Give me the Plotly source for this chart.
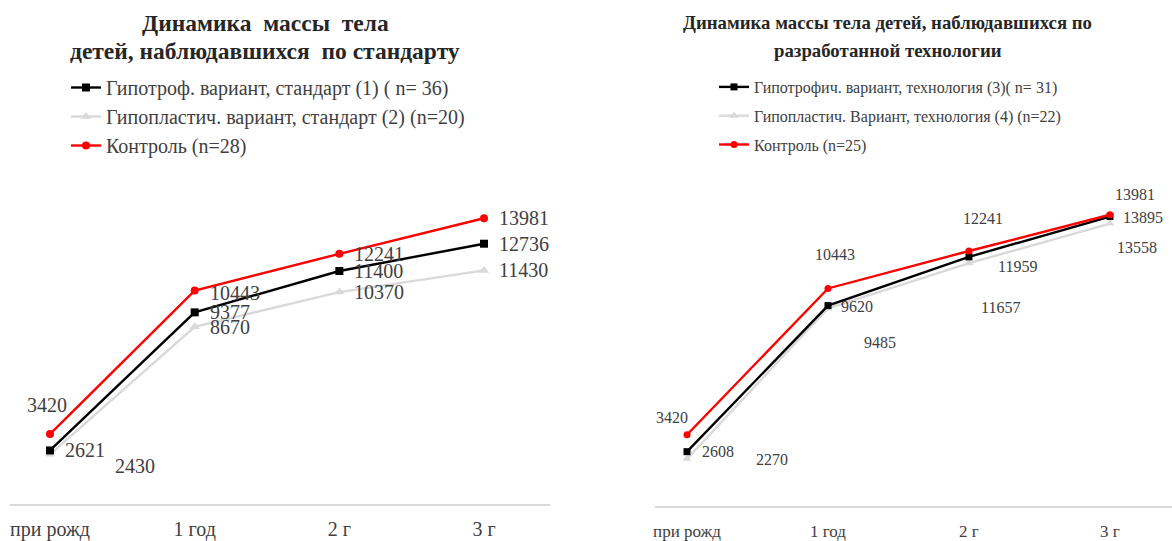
import plotly.graph_objects as go

# Age points (shared by both panels)
ages = ["при рожд", "1 год", "2 г", "3 г"]

# Panel 1: standard observation
std_hypotroph = [2621, 9377, 11400, 12736]
std_hypoplast = [2430, 8670, 10370, 11430]
std_control = [3420, 10443, 12241, 13981]

# Panel 2: developed technology
tech_hypotroph = [2608, 9620, 11959, 13895]
tech_hypoplast = [2270, 9485, 11657, 13558]
tech_control = [3420, 10443, 12241, 13981]

names_left = [
    "Гипотроф. вариант, стандарт (1) ( n= 36)",
    "Гипопластич. вариант, стандарт (2) (n=20)",
    "Контроль (n=28)",
]
names_right = [
    "Гипотрофич. вариант, технология (3)( n= 31)",
    "Гипопластич. Вариант, технология (4) (n=22)",
    "Контроль (n=25)",
]

title_left = ["Динамика  массы  тела", "детей, наблюдавшихся  по стандарту"]
title_right = ["Динамика массы тела детей, наблюдавшихся по", "разработанной технологии"]

W, H = 1172, 541
SERIF = "Liberation Serif, Times New Roman, serif"
TXT = "#404040"
BLACK, GRAY, RED = "#000000", "#d9d9d9", "#ff0000"

fig = go.Figure()


def add_series(values, name, color, symbol, msize, xa, ya, legend, rank):
    fig.add_trace(go.Scatter(
        x=list(range(len(ages))), y=values, name=name, mode="lines+markers",
        line=dict(color=color, width=2.4),
        marker=dict(symbol=symbol, size=msize, color=color),
        xaxis=xa, yaxis=ya, legend=legend, legendgroup=name, legendrank=rank,
        hoverinfo="skip", cliponaxis=False,
    ))


# grey drawn first so the darker lines sit on top
add_series(std_hypoplast, names_left[1], GRAY, "triangle-up", 9, "x", "y", "legend", 2)
add_series(std_hypotroph, names_left[0], BLACK, "square", 8, "x", "y", "legend", 1)
add_series(std_control, names_left[2], RED, "circle", 8, "x", "y", "legend", 3)

add_series(tech_hypoplast, names_right[1], GRAY, "triangle-up", 8, "x2", "y2", "legend2", 2)
add_series(tech_hypotroph, names_right[0], BLACK, "square", 7, "x2", "y2", "legend2", 1)
add_series(tech_control, names_right[2], RED, "circle", 7, "x2", "y2", "legend2", 3)

# Data label placement: (xanchor, xshift, yshift) per point
R = ("left", 13, 0)
label_specs = [
    ("x", "y", std_hypotroph, 20, [R, R, R, R]),
    ("x", "y", std_hypoplast, 20, [("left", 63, -12), R, R, R]),
    ("x", "y", std_control, 20, [("center", -3, 29), ("left", 13, -2), R, R]),
    ("x2", "y2", tech_hypotroph, 16, [("left", 13, 0), ("left", 11, -1), ("center", 49, -10), ("left", 11, -1)]),
    ("x2", "y2", tech_hypoplast, 16, [("center", 85, -1), ("center", 52, -34), ("center", 32, -44), ("center", 27, -24)]),
    ("x2", "y2", tech_control, 16, [("center", -15, 17), ("center", 7, 34), ("center", 14, 33), ("center", 25, 20)]),
]
for xa, ya, vals, fs, specs in label_specs:
    for i, (v, (anc, dx, dy)) in enumerate(zip(vals, specs)):
        fig.add_annotation(
            x=i, y=v, xref=xa, yref=ya, text=str(v), showarrow=False,
            xanchor=anc, yanchor="middle", xshift=dx, yshift=dy,
            font=dict(family=SERIF, size=fs, color=TXT),
        )

# Two-line titles, one annotation per line for tighter leading
for lines, cx, ys, fs in [(title_left, 265, (23, 51), 23.5), (title_right, 888, (22.5, 50), 18.8)]:
    for line, yc in zip(lines, ys):
        fig.add_annotation(x=cx / W, y=1 - yc / H, xref="paper", yref="paper",
                           text="<b>" + line + "</b>", showarrow=False,
                           xanchor="center", yanchor="middle",
                           font=dict(family=SERIF, size=fs, color="#262626"))

axis_common = dict(showgrid=False, zeroline=False, showline=True, linecolor="#d9d9d9",
                   linewidth=2, ticks="", tickmode="array", tickvals=list(range(len(ages))),
                   ticktext=ages, fixedrange=True, automargin=False)
yaxis_common = dict(visible=False, range=[0, 16000], fixedrange=True, automargin=False)

fig.update_layout(
    width=W, height=H, margin=dict(l=0, r=0, t=0, b=0, autoexpand=False),
    paper_bgcolor="white", plot_bgcolor="white",
    xaxis=dict(domain=[10 / W, 550 / W], range=[-0.2765, 3.456], anchor="y",
               tickfont=dict(family=SERIF, size=20, color=TXT), ticklabelstandoff=6, **axis_common),
    yaxis=dict(domain=[(H - 504) / H, (H - 177) / H], anchor="x", **yaxis_common),
    xaxis2=dict(domain=[655 / W, 1.0], range=[-0.227, 3.44], anchor="y2",
                tickfont=dict(family=SERIF, size=17, color=TXT), ticklabelstandoff=9, **axis_common),
    yaxis2=dict(domain=[(H - 506) / H, (H - 172.7) / H], anchor="x2", **yaxis_common),
    legend=dict(x=66 / W, y=1 - 68 / H, xanchor="left", yanchor="top",
                font=dict(family=SERIF, size=20, color=TXT), tracegroupgap=0,
                bgcolor="rgba(0,0,0,0)", traceorder="grouped"),
    legend2=dict(x=714 / W, y=1 - 70 / H, xanchor="left", yanchor="top",
                 font=dict(family=SERIF, size=16, color=TXT), tracegroupgap=5,
                 bgcolor="rgba(0,0,0,0)", traceorder="grouped"),
    showlegend=True,
)

fig.write_html("out.html")
